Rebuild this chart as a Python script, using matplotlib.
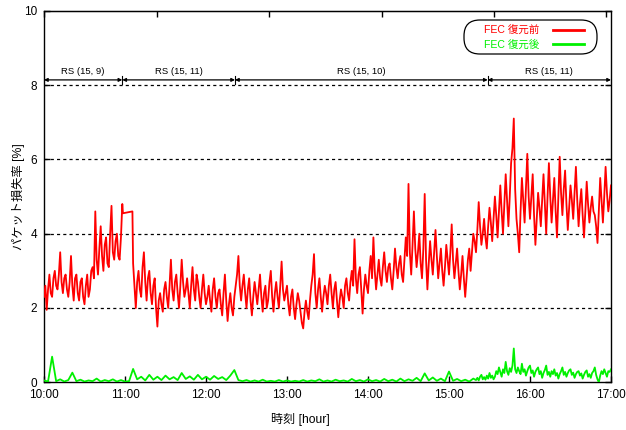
import numpy as np
import matplotlib
matplotlib.use("Agg")
import matplotlib.pyplot as plt
from matplotlib.patches import FancyBboxPatch

plt.rcParams['font.family'] = ['Liberation Sans', 'Noto Sans CJK JP', 'DejaVu Sans']

# ---------------- data (minutes after 10:00, loss rate %) ----------------
# before FEC recovery, 1-minute samples 10:00-10:58
red_a_start = 0
red_a = [2.3, 2.6, 1.95, 2.5, 2.9, 2.4, 2.3, 2.8, 3.0, 2.6,
         2.5, 2.9, 3.5, 2.7, 2.4, 2.8, 2.9, 2.5, 2.3, 2.7,
         3.4, 2.6, 2.2, 2.8, 2.9, 2.4, 2.2, 2.7, 2.8, 2.3,
         2.1, 2.6, 2.9, 2.3, 2.5, 3.0, 3.1, 2.8, 4.6, 3.3,
         2.9, 3.6, 4.2, 3.4, 3.0, 3.7, 3.9, 3.2, 3.1, 4.0,
         4.75, 3.5, 3.3, 3.8, 4.0, 3.4, 3.3, 3.9, 4.8]
# measurement gap (straight segment)
red_gap_t = [58.5, 65.5]
red_gap = [4.55, 4.6]
# 1-minute samples 11:06-17:00
red_b_start = 66
red_b = [3.2, 2.6, 2.0, 2.7, 3.0, 2.5, 2.3, 3.1, 3.5, 2.7,
         2.2, 2.8, 3.0, 2.4, 2.1, 2.6, 2.8, 2.0, 1.5, 2.2,
         2.4, 2.1, 1.9, 2.5, 2.7, 2.3, 2.0, 2.6, 3.3, 2.5,
         2.2, 2.7, 2.9, 2.4, 2.0, 2.6, 3.3, 2.7, 2.3, 2.5,
         2.8, 2.4, 2.0, 2.6, 3.1, 2.5, 2.2, 2.9, 2.7, 2.3,
         2.0, 2.5, 2.9, 2.4, 2.1, 2.3, 2.6, 2.2, 1.9, 2.5,
         2.8, 2.3, 2.0, 2.4, 2.5, 2.1, 1.8, 2.4, 2.9, 2.2,
         1.65, 2.1, 2.4, 2.0, 1.8, 2.3, 2.6, 2.9, 3.4, 2.6,
         2.2, 2.6, 2.9, 2.4, 2.0, 2.5, 2.8, 2.2, 1.8, 2.3,
         2.7, 2.4, 2.1, 2.5, 2.9, 2.3, 1.9, 2.4, 2.6, 2.0,
         2.2, 2.7, 3.0, 2.3, 1.9, 2.4, 2.7, 2.3, 2.0, 2.6,
         3.25, 2.5, 2.2, 2.4, 2.6, 2.1, 1.8, 2.3, 2.5, 2.0,
         1.7, 2.1, 2.4, 2.2, 1.9, 1.6, 1.45, 1.9, 2.2, 1.9,
         1.7, 2.2, 2.6, 2.9, 3.45, 2.4, 2.0, 2.5, 2.8, 2.3,
         1.9, 2.3, 2.6, 2.4, 2.1, 2.6, 2.9, 2.4, 2.0, 2.5,
         2.7, 2.2, 1.75, 2.2, 2.5, 2.3, 2.0, 2.6, 2.8, 2.4,
         2.2, 2.7, 3.0, 2.6, 3.85, 2.8, 2.4, 2.9, 3.1, 2.5,
         1.85, 2.5, 2.9, 2.6, 2.4, 3.0, 3.4, 2.8, 3.9, 3.0,
         2.5, 2.9, 3.3, 2.8, 2.6, 3.1, 3.5, 3.0, 2.7, 3.1,
         3.2, 2.8, 2.5, 3.0, 3.6, 3.1, 2.8, 3.2, 3.4, 2.9,
         2.7, 3.3, 3.9, 3.4, 5.34, 3.5, 2.9, 3.7, 4.6, 3.6,
         3.1, 3.5, 4.0, 3.2, 2.8, 3.6, 5.07, 3.3, 2.5, 3.2,
         3.8, 3.3, 2.9, 3.5, 4.1, 3.4, 2.8, 3.2, 3.6, 3.0,
         2.6, 3.1, 3.7, 3.3, 2.9, 3.5, 4.25, 3.3, 2.8, 3.2,
         3.6, 3.0, 2.5, 2.9, 3.4, 2.8, 2.3, 2.8, 3.3, 3.6,
         3.0, 3.5, 4.0, 3.8, 3.5, 4.1, 4.85, 4.2, 3.7, 4.0,
         4.4, 3.9, 3.6, 4.2, 4.7, 4.3, 3.8, 4.4, 5.0, 4.5,
         3.9, 4.6, 5.3, 4.6, 4.0, 4.8, 5.6, 4.9, 4.2, 5.0,
         5.9, 6.3, 7.1, 5.2, 4.4, 4.0, 3.5, 4.6, 5.5, 4.9,
         4.3, 5.2, 6.15, 5.0, 4.4, 5.0, 5.6, 4.5, 3.7, 4.4,
         5.1, 4.7, 4.2, 4.9, 5.6, 4.8, 4.0, 5.0, 5.9, 5.0,
         4.3, 4.9, 5.5, 4.6, 3.9, 5.0, 6.07, 5.1, 4.5, 5.2,
         5.7, 4.8, 4.1, 4.7, 5.3, 4.9, 4.4, 5.1, 5.8, 4.9,
         4.2, 4.8, 5.2, 4.5, 3.9, 4.6, 5.4, 4.8, 4.3, 4.7,
         5.0, 4.6, 4.5, 4.2, 3.75, 4.6, 5.5, 4.9, 4.3, 5.0,
         5.8, 5.1, 4.6, 4.9, 5.3]

# after FEC recovery: 3-minute samples 10:00-15:18, then 1-minute samples 15:20-17:00
green_a_start = 0
green_a = [0.05, 0.02, 0.69, 0.03, 0.08, 0.02, 0.06, 0.26, 0.03, 0.07, 0.02, 0.05, 0.03, 0.10,
           0.02, 0.06, 0.03, 0.08, 0.02, 0.06, 0.02, 0.03, 0.36, 0.08, 0.15, 0.05, 0.20, 0.07,
           0.15, 0.06, 0.18, 0.08, 0.14, 0.06, 0.25, 0.09, 0.16, 0.07, 0.20, 0.08, 0.15, 0.07,
           0.17, 0.09, 0.14, 0.06, 0.18, 0.33, 0.06, 0.03, 0.06, 0.02, 0.05, 0.02, 0.07, 0.02,
           0.04, 0.02, 0.06, 0.02, 0.05, 0.02, 0.04, 0.02, 0.06, 0.02, 0.05, 0.03, 0.08, 0.02,
           0.05, 0.02, 0.07, 0.03, 0.05, 0.02, 0.09, 0.03, 0.06, 0.02, 0.08, 0.03, 0.06, 0.02,
           0.09, 0.03, 0.07, 0.02, 0.10, 0.03, 0.08, 0.04, 0.12, 0.03, 0.24, 0.05, 0.13, 0.04,
           0.10, 0.03, 0.29, 0.04, 0.09, 0.03, 0.07, 0.02, 0.10]
green_b_start = 320
green_b = [0.06, 0.12, 0.05, 0.15, 0.20, 0.08, 0.14, 0.07, 0.18, 0.10,
           0.25, 0.12, 0.18, 0.08, 0.15, 0.30, 0.22, 0.40, 0.28, 0.15,
           0.35, 0.25, 0.55, 0.30, 0.20, 0.38, 0.28, 0.45, 0.91, 0.35,
           0.25, 0.40, 0.30, 0.22, 0.50, 0.28, 0.35, 0.18, 0.30, 0.40,
           0.45, 0.25, 0.32, 0.15, 0.28, 0.35, 0.40, 0.22, 0.30, 0.12,
           0.25, 0.33, 0.45, 0.20, 0.28, 0.15, 0.30, 0.22, 0.35, 0.18,
           0.25, 0.10, 0.22, 0.30, 0.40, 0.20, 0.28, 0.15, 0.25, 0.32,
           0.35, 0.20, 0.26, 0.12, 0.22, 0.28, 0.30, 0.18, 0.24, 0.10,
           0.20, 0.28, 0.32, 0.15, 0.22, 0.12, 0.25, 0.30, 0.40, 0.20,
           0.08, 0.00, 0.18, 0.30, 0.22, 0.35, 0.25, 0.15, 0.30, 0.28,
           0.35]

# FEC scheme periods (minutes after 10:00)
rs_bounds = [0, 58, 141.5, 328.7, 420]
rs_labels = ["RS (15, 9)", "RS (15, 11)", "RS (15, 10)", "RS (15, 11)"]
rs_level = 8.14

x_ticks_h = [10, 11, 12, 13, 14, 15, 16, 17]
x_tick_labels = ["10:00", "11:00", "12:00", "13:00", "14:00", "15:00", "16:00", "17:00"]
y_ticks = [0, 2, 4, 6, 8, 10]
legend_labels = ["FEC 復元前", "FEC 復元後"]

# ---------------- assemble ----------------
red_t = np.concatenate([red_a_start + np.arange(len(red_a)),
                        red_gap_t,
                        red_b_start + np.arange(len(red_b))])
red_v = np.concatenate([red_a, red_gap, red_b])
green_t = np.concatenate([green_a_start + 3 * np.arange(len(green_a)),
                          green_b_start + np.arange(len(green_b))])
green_v = np.concatenate([green_a, green_b])

def to_h(m):
    return 10 + np.asarray(m, dtype=float) / 60.0

W, H = 626, 430
fig = plt.figure(figsize=(W / 100, H / 100), dpi=100)
ax_l, ax_r, ax_t, ax_b = 44, 611, 10.8, 382.3
ax = fig.add_axes([ax_l / W, 1 - ax_b / H, (ax_r - ax_l) / W, (ax_b - ax_t) / H])

ax.plot(to_h(red_t), red_v, color='#ff0000', lw=1.3, label=legend_labels[0], zorder=3)
ax.plot(to_h(green_t), green_v, color='#00f000', lw=1.3, label=legend_labels[1], zorder=3)

ax.set_xlim(10, 17)
ax.set_ylim(0, 10)
ax.set_xticks(x_ticks_h)
ax.set_xticklabels(x_tick_labels)
ax.set_yticks(y_ticks)
for yv in y_ticks[1:-1]:
    ax.axhline(yv, color='black', lw=0.9, ls=(0, (2.5, 2.5)), zorder=1)

ax.tick_params(axis='both', direction='in', length=4, width=1, labelsize=8.5,
               right=True, top=False, pad=5)
for sp in ax.spines.values():
    sp.set_linewidth(1.0)

# secondary top ticks every 5000 s
sec = ax.secondary_xaxis('top', functions=(lambda h: (h - 10) * 3600, lambda s: 10 + s / 3600))
sec.set_xticks(np.arange(0, 25001, 5000))
sec.tick_params(direction='in', length=4, width=1, labeltop=False)

# RS arrows
for i, lab in enumerate(rs_labels):
    x0, x1 = to_h(rs_bounds[i]), to_h(rs_bounds[i + 1])
    ax.annotate('', xy=(x1, rs_level), xytext=(x0, rs_level),
                arrowprops=dict(arrowstyle='<|-|>', color='black', lw=0.9,
                                mutation_scale=5, shrinkA=0, shrinkB=0), zorder=4)
    ax.text((x0 + x1) / 2, rs_level + 0.1, lab, ha='center', va='bottom', fontsize=6.8)
for b in rs_bounds[1:-1]:
    ax.plot([to_h(b), to_h(b)], [rs_level - 0.1, rs_level + 0.1], color='black', lw=0.8)

def px_to_ax(px, py):
    return (px - ax_l) / (ax_r - ax_l), (ax_b - py) / (ax_b - ax_t)

ax.set_xlabel("時刻 [hour]", fontsize=8.7)
ax.xaxis.set_label_coords(*px_to_ax(300.5, 413))
ax.set_ylabel("パケット損失率 [%]", fontsize=8.8)
ax.yaxis.set_label_coords(*px_to_ax(25, 197))

# legend: text then sample, inside a rounded box
bx0, by0 = px_to_ax(464, 54)
bx1, by1 = px_to_ax(597, 20)
box = FancyBboxPatch((bx0, by0), bx1 - bx0, by1 - by0, transform=ax.transAxes,
                     boxstyle='round,pad=0,rounding_size=0.028', facecolor='white',
                     edgecolor='black', lw=0.9, zorder=5, mutation_aspect=(ax_r - ax_l) / (ax_b - ax_t))
ax.add_patch(box)
leg = ax.legend(loc='upper right', bbox_to_anchor=px_to_ax(584, 25.5), markerfirst=False,
                fontsize=7.6, labelcolor='linecolor', frameon=False,
                handlelength=2.95, borderpad=0, labelspacing=0.35,
                handletextpad=1.3, borderaxespad=0)
leg.set_zorder(6)
for h in leg.get_lines():
    h.set_linewidth(2.0)

fig.savefig("out.png", dpi=100)
